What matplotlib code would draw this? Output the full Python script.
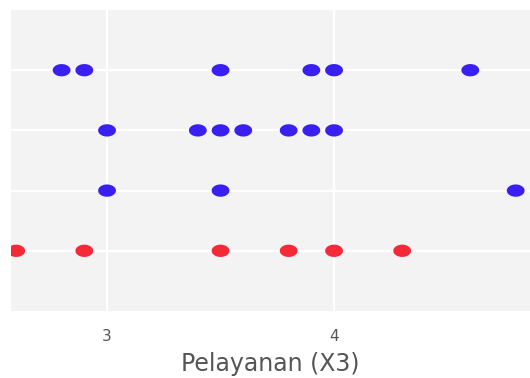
import numpy as np
import matplotlib.pyplot as plt
from matplotlib.path import Path

# Pelayanan (X3) values per group (row 0 = bottom)
row0_x = [2.6, 2.9, 3.5, 3.8, 4.0, 4.3]
row1_x = [3.0, 3.5, 4.8]
row2_x = [3.0, 3.4, 3.5, 3.6, 3.8, 3.9, 4.0]
row3_x = [2.8, 2.9, 3.5, 3.9, 4.0, 4.6]
rows = [row0_x, row1_x, row2_x, row3_x]
row_colors = ['#f52a38', '#3a20f0', '#3a20f0', '#3a20f0']
x_ticks = [3, 4]

# oval marker (the reference looks horizontally stretched)
t = np.linspace(0, 2 * np.pi, 60)
oval = Path(np.column_stack([1.45 * np.cos(t), np.sin(t)]), closed=True)

fig = plt.figure(figsize=(5.3, 3.78), dpi=100)
ax = fig.add_axes([11 / 530, 1 - 311 / 378, 1 - 11 / 530, 301 / 378])
ax.set_facecolor('#f3f3f3')

for i, xs in enumerate(rows):
    ax.scatter(xs, [i] * len(xs), marker=oval, s=165, color=row_colors[i],
               edgecolors='none', zorder=3, clip_on=True)

ax.set_xlim(2.577, 4.863)
ax.set_ylim(-1, 4)
ax.set_xticks(x_ticks)
ax.set_yticks([0, 1, 2, 3])
ax.set_yticklabels([])
ax.grid(True, color='white', linewidth=1.6)
ax.set_axisbelow(True)
for s in ax.spines.values():
    s.set_visible(False)
ax.tick_params(length=0, labelsize=11, labelcolor='#555555', pad=13)
ax.set_xlabel('Pelayanan (X3)', fontsize=17, color='#555555', labelpad=6)

fig.savefig('out.png', dpi=100)
